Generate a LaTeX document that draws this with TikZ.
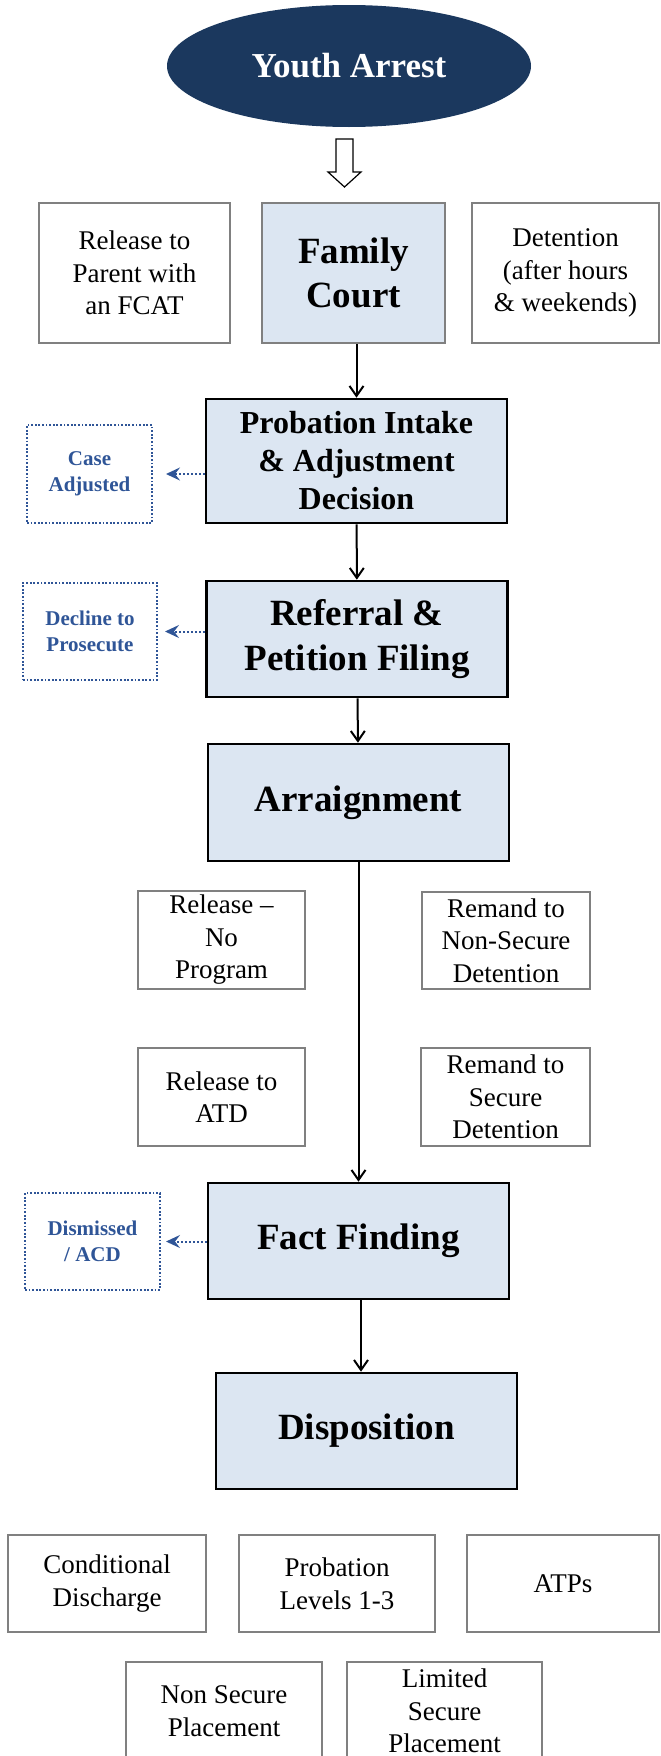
\documentclass[tikz,border=0pt]{standalone}
\usepackage{fontspec}
\setmainfont{Liberation Serif}
\usetikzlibrary{shapes.geometric,arrows.meta,calc}
\definecolor{courtnavy}{RGB}{27,56,94}
\definecolor{courtfill}{RGB}{220,230,242}
\definecolor{courtblue}{RGB}{47,85,151}
\definecolor{boxgrey}{RGB}{128,128,128}

\begin{document}
\begin{tikzpicture}[x=0.5pt,y=-0.5pt,
		stage/.style={draw, line width=1.3pt, fill=courtfill, align=center, inner sep=2pt,
			font=\bfseries\fontsize{18.5}{22}\selectfont, minimum width=150.5pt, minimum height=58pt},
		option/.style={draw=boxgrey, line width=1pt, fill=white, align=center, inner sep=2pt,
			font=\fontsize{13.5}{16.25}\selectfont, minimum height=48.5pt},
		outcome/.style={draw=courtblue, line width=1pt, dash pattern=on 0.9pt off 0.9pt, text=courtblue,
			align=center, font=\bfseries\fontsize{10.5}{13}\selectfont, minimum height=48.5pt},
		flow/.style={line width=1pt, -{Straight Barb[length=5pt,width=7pt]}},
		exitflow/.style={courtblue, line width=1pt, dash pattern=on 1pt off 1pt,
			-{Stealth[length=7pt,width=6.5pt,inset=2.5pt]}}]
				\useasboundingbox (0,0) rectangle (660,1756);
				
				% Arrest and first court appearance
				\node[ellipse, fill=courtnavy, text=white, font=\bfseries\fontsize{17.5}{20}\selectfont,
					minimum width=182pt, minimum height=61pt] (arrest) at (349,66) {Youth Arrest};
				\draw[line width=0.6pt, fill=white] (336,139) -- (353,139) -- (353,172) -- (361,172)
					-- (344.5,187) -- (328,172) -- (336,172) -- cycle;
				
				\node[option, minimum width=95.5pt, minimum height=70pt] (parent) at (134.5,273) {Release to\\Parent with\\an FCAT};
				\node[stage, draw=boxgrey, minimum width=91.5pt, minimum height=70pt] (court) at (353.5,273) {Family\\Court};
				\node[option, minimum width=93.5pt, minimum height=70pt] (detain) at (565.5,273) {Detention\\(after hours\\\& weekends)};
				
				% Intake and petition
				\node[stage, font=\bfseries\fontsize{16}{19}\selectfont, minimum height=62pt] (intake) at (356.5,461) {Probation Intake\\\& Adjustment\\Decision};
				\node[outcome, minimum width=62.5pt, minimum height=49pt] (adjusted) at (89.5,474) {Case\\Adjusted};
				
				\node[stage, font=\bfseries\fontsize{18.5}{22.5}\selectfont] (referral) at (357,639) {Referral \&\\Petition Filing};
				\node[outcome, minimum width=67pt] (decline) at (90,631.5) {Decline to\\Prosecute};
				
				\draw[flow] (intake.north |- court.south) -- (intake.north);
				\draw[flow] (intake) -- (referral);
				\draw[exitflow, shorten >=6.5pt] (intake.west |- adjusted) -- (adjusted.east);
				\draw[exitflow, shorten >=3.5pt] (referral.west |- decline) -- (decline.east);
				
				% Arraignment and remand options
				\node[stage, minimum height=58.5pt] (arraign) at (358.5,802.5) {Arraignment};
				\node[option, minimum width=83.5pt, minimum height=49pt] (norelease) at (221.5,940) {Release --\\No\\Program};
				\node[option, minimum width=84pt] (nonsecure) at (506,940.5) {Remand to\\Non-Secure\\Detention};
				\node[option, minimum width=83.5pt, minimum height=49pt] (atd) at (221.5,1097) {Release to\\ATD};
				\node[option, minimum width=84.5pt, minimum height=49pt] (secure) at (505.5,1097) {Remand to\\Secure\\Detention};
				
				\draw[flow] (referral) -- (arraign);
				
				% Fact finding and disposition
				\node[stage] (factfind) at (358.5,1241) {Fact Finding};
				\node[outcome, minimum width=67.5pt] (dismissed) at (92.5,1241.5) {Dismissed\\/ ACD};
				\node[stage] (dispo) at (366.5,1431) {Disposition};
				
				\draw[flow] (arraign) -- (factfind);
				\draw[exitflow, shorten >=2.5pt] (factfind.west |- dismissed) -- (dismissed.east);
				\draw[flow] ($(factfind.south)+(2.5,0)$) -- ($(factfind.south |- dispo.north)+(2.5,0)$);
				
				% Disposition options
				\node[option, minimum width=99pt] (conditional) at (107,1583.5) {Conditional\\Discharge};
				\node[option, minimum width=98pt] (problevels) at (337,1583.5) {Probation\\Levels 1-3};
				\node[option, minimum width=96pt] (atps) at (563,1583.5) {ATPs};
				\node[option, minimum width=98pt, minimum height=49pt] (nonsecplace) at (224,1711) {Non Secure\\Placement};
				\node[option, minimum width=97.5pt, minimum height=49pt] (limsecplace) at (444.5,1711) {Limited\\Secure\\Placement};
			\end{tikzpicture}
\end{document}
